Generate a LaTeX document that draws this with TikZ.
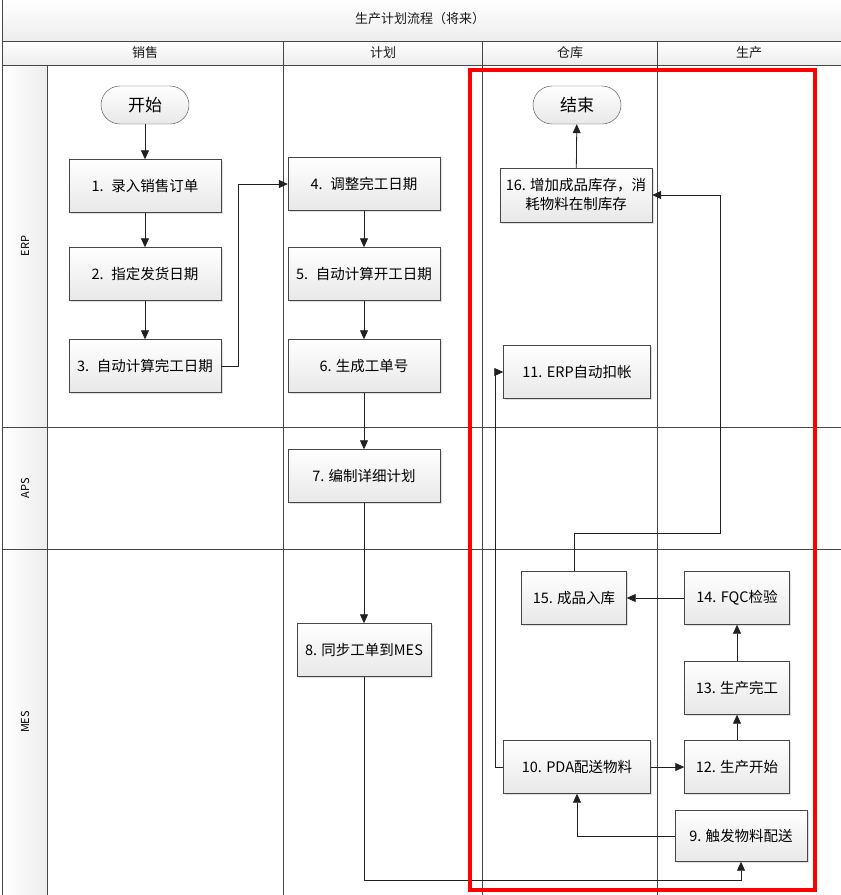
\documentclass[tikz,border=0pt]{standalone}
\usepackage{fontspec}
\setmainfont{Noto Sans CJK SC}
\usetikzlibrary{arrows.meta, positioning, shadows}

\begin{document}
\begin{tikzpicture}[x=1pt, y=-1pt,
    procbox/.style={rectangle, draw=gray!55!black, top color=white, bottom color=gray!18,
      drop shadow={opacity=0.25, shadow xshift=1.5pt, shadow yshift=-1.5pt},
      minimum width=152pt, minimum height=53pt, inner sep=2pt, align=center,
      font=\fontsize{14.5}{19}\selectfont},
    termbox/.style={rectangle, rounded corners=19pt, draw=gray!55!black, top color=white,
      bottom color=gray!18, minimum width=88pt, minimum height=38pt,
      font=\fontsize{17}{19}\selectfont},
    flowline/.style={draw=gray!25!black, line width=0.8pt, -{Triangle[length=9pt, width=8pt]}},
    gridline/.style={draw=gray!55!black, line width=0.7pt},
    headtext/.style={font=\fontsize{13}{15}\selectfont, text=gray!20!black},
    lanetext/.style={font=\fontsize{11}{13}\selectfont, rotate=90}]

  \useasboundingbox (0,0) rectangle (841,895);

  % title band and column heads
  \shade[top color=white, bottom color=gray!14] (2,0) rectangle (841,41);
  \shade[top color=white, bottom color=gray!14] (2,41) rectangle (841,65);
  \fill[left color=white, right color=gray!14] (2,65) rectangle (47,895);
  \node[headtext] (title) at (420,19) {生产计划流程（将来）};
  \node[headtext] (hsale) at (145,53) {销售};
  \node[headtext] (hplan) at (383,53) {计划};
  \node[headtext] (hstore) at (570,53) {仓库};
  \node[headtext] (hprod) at (749,53) {生产};

  % grid
  \draw[gridline] (2,0) -- (2,895);
  \draw[gridline] (2,41) -- (841,41);
  \draw[gridline] (2,65) -- (841,65);
  \draw[gridline] (2,427) -- (841,427);
  \draw[gridline] (2,549) -- (841,549);
  \draw[gridline] (47,65) -- (47,895);
  \draw[gridline] (283,41) -- (283,895);
  \draw[gridline] (482,41) -- (482,895);
  \draw[gridline] (657,41) -- (657,895);

  % lanes
  \node[lanetext] (erp) at (25,246) {ERP};
  \node[lanetext] (aps) at (25,488) {APS};
  \node[lanetext] (mes) at (25,722) {MES};

  % sales
  \node[termbox] (start) at (145,105) {开始};
  \node[procbox] (n1) at (145,186) {1.~ 录入销售订单};
  \node[procbox] (n2) at (145,274) {2.~ 指定发货日期};
  \node[procbox] (n3) at (145,366) {3.~ 自动计算完工日期};

  % planning
  \node[procbox] (n4) at (364,184) {4.~ 调整完工日期};
  \node[procbox] (n5) at (364,274) {5.~ 自动计算开工日期};
  \node[procbox] (n6) at (364,366) {6. 生成工单号};
  \node[procbox] (n7) at (364,476) {7. 编制详细计划};
  \node[procbox, minimum width=134pt] (n8) at (364,650) {8. 同步工单到MES};

  % warehouse
  \node[termbox] (end) at (577,105) {结束};
  \node[procbox, minimum height=54pt] (n16) at (576,195) {16. 增加成品库存，消\\耗物料在制库存};
  \node[procbox, minimum width=147pt] (n11) at (577,372) {11. ERP自动扣帐};
  \node[procbox, minimum width=105pt] (n15) at (574,598) {15. 成品入库};
  \node[procbox, minimum width=147pt] (n10) at (577,767) {10. PDA配送物料};

  % production
  \node[procbox, minimum width=105pt] (n14) at (737,598) {14. FQC检验};
  \node[procbox, minimum width=105pt] (n13) at (737,688) {13. 生产完工};
  \node[procbox, minimum width=105pt] (n12) at (737,767) {12. 生产开始};
  \node[procbox, minimum width=132pt, minimum height=51pt] (n9) at (741,836) {9. 触发物料配送};

  % connectors
  \draw[flowline] (start) -- (n1);
  \draw[flowline] (n1) -- (n2);
  \draw[flowline] (n2) -- (n3);
  \draw[flowline] (n3.east) -- ++(17,0) |- (n4.west);
  \draw[flowline] (n4) -- (n5);
  \draw[flowline] (n5) -- (n6);
  \draw[flowline] (n6) -- (n7);
  \draw[flowline] (n7) -- (n8);
  \draw[flowline] (n8.south) |- ([yshift=-19pt]n9.south) -- (n9.south);
  \draw[flowline] (n9.west) -| (n10.south);
  \draw[flowline] (n10) -- (n12);
  \draw[flowline] (n10.west) -- ++(-8,0) |- (n11.west);
  \draw[flowline] (n12) -- (n13);
  \draw[flowline] (n13) -- (n14);
  \draw[flowline] (n14) -- (n15);
  \coordinate (turn16) at (720,533);
  \draw[flowline] (n15.north) |- (turn16) |- (n16.east);
  \draw[flowline] (n16) -- (end);

  % highlighted area
  \draw[red, line width=4pt] (470,70) rectangle (815,890);
\end{tikzpicture}
\end{document}
